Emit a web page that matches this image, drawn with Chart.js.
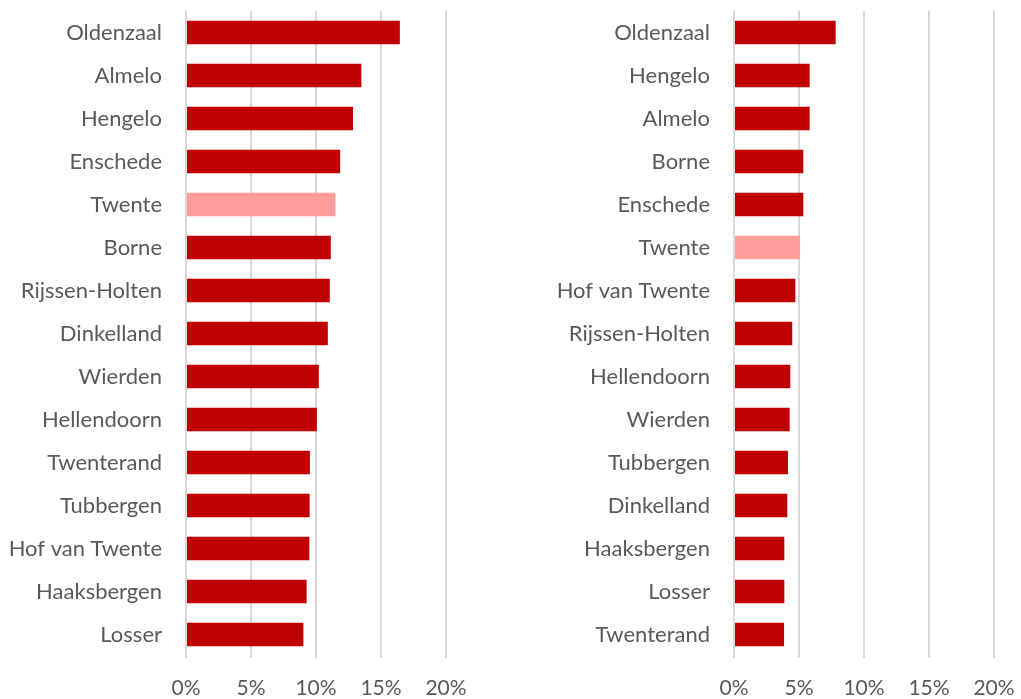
<!DOCTYPE html>
<html>
<head>
<meta charset="utf-8">
<script src="https://cdn.jsdelivr.net/npm/chart.js@4/dist/chart.umd.min.js"></script>
<style>
  html, body { margin: 0; padding: 0; background: #fff; }
  #wrap { position: relative; width: 1021px; height: 699px; }
  .box { position: absolute; top: 0; height: 699px; }
</style>
</head>
<body>
<div id="wrap">
  <div class="box" style="left:0;width:470px"><canvas id="left"></canvas></div>
  <div class="box" style="left:500px;width:521px"><canvas id="right"></canvas></div>
</div>
<script>
// left chart
const leftLabels = ["Oldenzaal", "Almelo", "Hengelo", "Enschede", "Twente", "Borne", "Rijssen-Holten", "Dinkelland",
    "Wierden", "Hellendoorn", "Twenterand", "Tubbergen", "Hof van Twente", "Haaksbergen", "Losser"];
const leftValues = [16.45, 13.49, 12.85, 11.86, 11.5, 11.14, 11.06, 10.91, 10.22, 10.07, 9.53, 9.51, 9.49, 9.28, 9.03];

// right chart
const rightLabels = ["Oldenzaal", "Hengelo", "Almelo", "Borne", "Enschede", "Twente", "Hof van Twente", "Rijssen-Holten",
    "Hellendoorn", "Wierden", "Tubbergen", "Dinkelland", "Haaksbergen", "Losser", "Twenterand"];
const rightValues = [7.82, 5.82, 5.82, 5.33, 5.33, 5.08, 4.72, 4.48, 4.33, 4.28, 4.15, 4.1, 3.87, 3.87, 3.85];

const xTicks = [0, 5, 10, 15, 20];

const dark = "#C00000";
const light = "#FF9D9D";
const textColor = "#595959";
const fontFamily = "Lato, 'Liberation Sans', sans-serif";

function makeChart(id, labels, values, yWidth, padRight) {
    const ctx = document.getElementById(id).getContext('2d');
    return new Chart(ctx, {
        type: 'bar',
        data: {
            labels: labels,
            datasets: [{
                data: values,
                backgroundColor: labels.map(l => l === "Twente" ? light : dark),
                barPercentage: 0.55,
                categoryPercentage: 1.0
            }]
        },
        options: {
            indexAxis: 'y',
            responsive: true,
            maintainAspectRatio: false,
            animation: false,
            layout: { padding: { top: 11, right: padRight, bottom: 0, left: 0 } },
            plugins: { legend: { display: false }, tooltip: { enabled: false } },
            scales: {
                x: {
                    min: 0,
                    max: 20,
                    afterBuildTicks: scale => { scale.ticks = xTicks.map(v => ({ value: v })); },
                    afterFit: scale => {
                        scale.height = 43;
                        scale.paddingLeft = 0;
                        scale.paddingRight = 0;
                    },
                    grid: { color: "#D9D9D9", lineWidth: 2, drawTicks: true, tickLength: 2, tickColor: "#D9D9D9" },
                    border: { display: false },
                    ticks: {
                        padding: 18,
                        color: textColor,
                        font: { family: fontFamily, size: 21 },
                        callback: v => v + "%"
                    }
                },
                y: {
                    afterFit: scale => {
                        scale.width = yWidth;
                        scale.paddingTop = 0;
                        scale.paddingBottom = 0;
                    },
                    grid: { display: false, drawTicks: false },
                    border: { display: false },
                    ticks: {
                        padding: 24,
                        color: textColor,
                        font: { family: fontFamily, size: 22 }
                    }
                }
            }
        }
    });
}

makeChart("left", leftLabels, leftValues, 186, 24);
makeChart("right", rightLabels, rightValues, 234, 27);
</script>
</body>
</html>
